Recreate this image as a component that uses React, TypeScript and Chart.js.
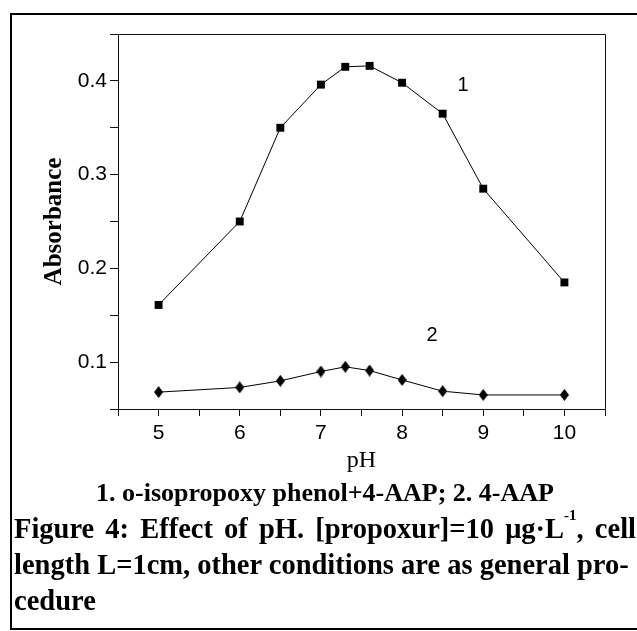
import React, { useEffect, useRef } from "react";
import { Chart, registerables } from "chart.js";

Chart.register(...registerables);

// ---- data ----
const phValues = [5, 6, 6.5, 7, 7.3, 7.6, 8, 8.5, 9, 10];
const absorbanceSeries1 = [0.161, 0.25, 0.35, 0.396, 0.415, 0.416, 0.398, 0.365, 0.285, 0.185];
const absorbanceSeries2 = [0.068, 0.073, 0.08, 0.09, 0.095, 0.091, 0.081, 0.069, 0.065, 0.065];
const seriesNames = ["1", "2"];
const seriesLabelX = [8.75, 8.37];
const seriesLabelY = [0.395, 0.128];
const xAllTicks = [4.5, 5, 5.5, 6, 6.5, 7, 7.5, 8, 8.5, 9, 9.5, 10, 10.5];
const xMajorTicks = [5, 6, 7, 8, 9, 10];
const yAllTicks = [0.05, 0.1, 0.15, 0.2, 0.25, 0.3, 0.35, 0.4, 0.45];
const yMajorTicks = [0.1, 0.2, 0.3, 0.4];
const xTitle = "pH";
const yTitle = "Absorbance";
const legendLine = "1. o-isopropoxy phenol+4-AAP; 2. 4-AAP";

const SANS = '"Liberation Sans", Arial, sans-serif';
const SERIF = '"Liberation Serif", "Times New Roman", serif';

function makeDiamond(): HTMLCanvasElement {
  const c = document.createElement("canvas");
  c.width = 9;
  c.height = 12;
  const g = c.getContext("2d")!;
  g.fillStyle = "#000";
  g.beginPath();
  g.moveTo(4.5, 0);
  g.lineTo(9, 6);
  g.lineTo(4.5, 12);
  g.lineTo(0, 6);
  g.closePath();
  g.fill();
  return c;
}

export default function App() {
  const ref = useRef<HTMLCanvasElement | null>(null);

  useEffect(() => {
    if (!ref.current) return;
    const diamond = makeDiamond();

    const framePlugin = {
      id: "frame",
      afterDraw(chart: any) {
        const { ctx, chartArea } = chart;
        ctx.save();
        ctx.strokeStyle = "#111";
        ctx.lineWidth = 1;
        ctx.beginPath();
        ctx.moveTo(chartArea.left, Math.round(chartArea.top) + 0.5);
        ctx.lineTo(Math.round(chartArea.right) + 0.5, Math.round(chartArea.top) + 0.5);
        ctx.lineTo(Math.round(chartArea.right) + 0.5, chartArea.bottom);
        ctx.stroke();
        ctx.restore();
      },
    };

    const labelPlugin = {
      id: "seriesLabels",
      afterDatasetsDraw(chart: any) {
        const { ctx, scales } = chart;
        ctx.save();
        ctx.fillStyle = "#000";
        ctx.font = `20px ${SANS}`;
        ctx.textAlign = "center";
        ctx.textBaseline = "middle";
        seriesNames.forEach((name, i) => {
          ctx.fillText(
            name,
            scales.x.getPixelForValue(seriesLabelX[i]),
            scales.y.getPixelForValue(seriesLabelY[i])
          );
        });
        ctx.restore();
      },
    };

    const chart = new Chart(ref.current, {
      type: "line",
      data: {
        datasets: [
          {
            label: seriesNames[0],
            data: phValues.map((x, i) => ({ x, y: absorbanceSeries1[i] })),
            borderColor: "#000",
            borderWidth: 1,
            pointStyle: "rect",
            pointRadius: 5.6,
            pointBackgroundColor: "#000",
            pointBorderColor: "#000",
            pointBorderWidth: 0,
            tension: 0,
          },
          {
            label: seriesNames[1],
            data: phValues.map((x, i) => ({ x, y: absorbanceSeries2[i] })),
            borderColor: "#000",
            borderWidth: 1,
            pointStyle: diamond as any,
            pointRadius: 5,
            pointBackgroundColor: "#000",
            pointBorderColor: "#000",
            tension: 0,
          },
        ],
      },
      options: {
        animation: false,
        responsive: true,
        maintainAspectRatio: false,
        layout: { padding: { left: 0, top: 34, right: 32, bottom: 0 } },
        plugins: { legend: { display: false }, tooltip: { enabled: false } },
        scales: {
          x: {
            type: "linear",
            min: 4.5,
            max: 10.5,
            afterBuildTicks: (s: any) => {
              s.ticks = xAllTicks.map((v) => ({ value: v }));
            },
            afterFit: (s: any) => {
              s.height = 71;
            },
            ticks: {
              autoSkip: false,
              maxRotation: 0,
              padding: 5,
              color: "#000",
              font: { family: SANS, size: 21 },
              callback: (v: any) => (xMajorTicks.includes(Number(v)) ? String(v) : ""),
            },
            grid: { drawOnChartArea: false, drawTicks: true, tickLength: 7, tickColor: "#111" },
            border: { display: true, color: "#111", width: 1 },
            title: {
              display: true,
              text: xTitle,
              color: "#000",
              font: { family: SERIF, size: 24 },
              padding: { top: 0, bottom: 5 },
            },
          },
          y: {
            type: "linear",
            min: 0.05,
            max: 0.45,
            afterBuildTicks: (s: any) => {
              s.ticks = yAllTicks.map((v) => ({ value: v }));
            },
            afterFit: (s: any) => {
              s.width = 118;
            },
            ticks: {
              autoSkip: false,
              padding: 3,
              color: "#000",
              font: { family: SANS, size: 21 },
              callback: (v: any) =>
                yMajorTicks.some((t) => Math.abs(t - Number(v)) < 1e-9) ? Number(v).toFixed(1) : "",
            },
            grid: { drawOnChartArea: false, drawTicks: true, tickLength: 8, tickColor: "#111" },
            border: { display: true, color: "#111", width: 1 },
            title: {
              display: true,
              text: yTitle,
              color: "#000",
              font: { family: SERIF, size: 25, weight: "bold" },
              padding: { top: 40, bottom: 0 },
            },
          },
        },
      },
      plugins: [framePlugin, labelPlugin],
    });

    return () => chart.destroy();
  }, []);

  return (
    <div
      style={{
        position: "absolute",
        left: 0,
        top: 0,
        width: 637,
        height: 631,
        overflow: "hidden",
        background: "#fff",
      }}
    >
      <div
        style={{
          position: "absolute",
          left: 10,
          top: 13,
          width: 720,
          height: 617,
          border: "2px solid #000",
          boxSizing: "border-box",
        }}
      />
      <div style={{ position: "absolute", left: 0, top: 0, width: 637, height: 480 }}>
        <canvas ref={ref} />
      </div>
      <div
        style={{
          position: "absolute",
          left: 0,
          top: 480,
          width: 650,
          textAlign: "center",
          fontFamily: SERIF,
          fontWeight: "bold",
          fontSize: 26,
          lineHeight: 1,
          whiteSpace: "nowrap",
          color: "#000",
        }}
      >
        {legendLine}
      </div>
      <div
        style={{
          position: "absolute",
          left: 14,
          top: 511,
          fontFamily: SERIF,
          fontWeight: "bold",
          fontSize: 28.5,
          lineHeight: "36px",
          whiteSpace: "nowrap",
          color: "#000",
        }}
      >
        <div style={{ wordSpacing: 4 }}>
          Figure 4: Effect of pH. [propoxur]=10 μg·L
          <sup style={{ fontSize: 15, lineHeight: 0, verticalAlign: "top", position: "relative", top: 4 }}>-1</sup>, cell
        </div>
        <div>length L=1cm, other conditions are as general pro-</div>
        <div>cedure</div>
      </div>
    </div>
  );
}
